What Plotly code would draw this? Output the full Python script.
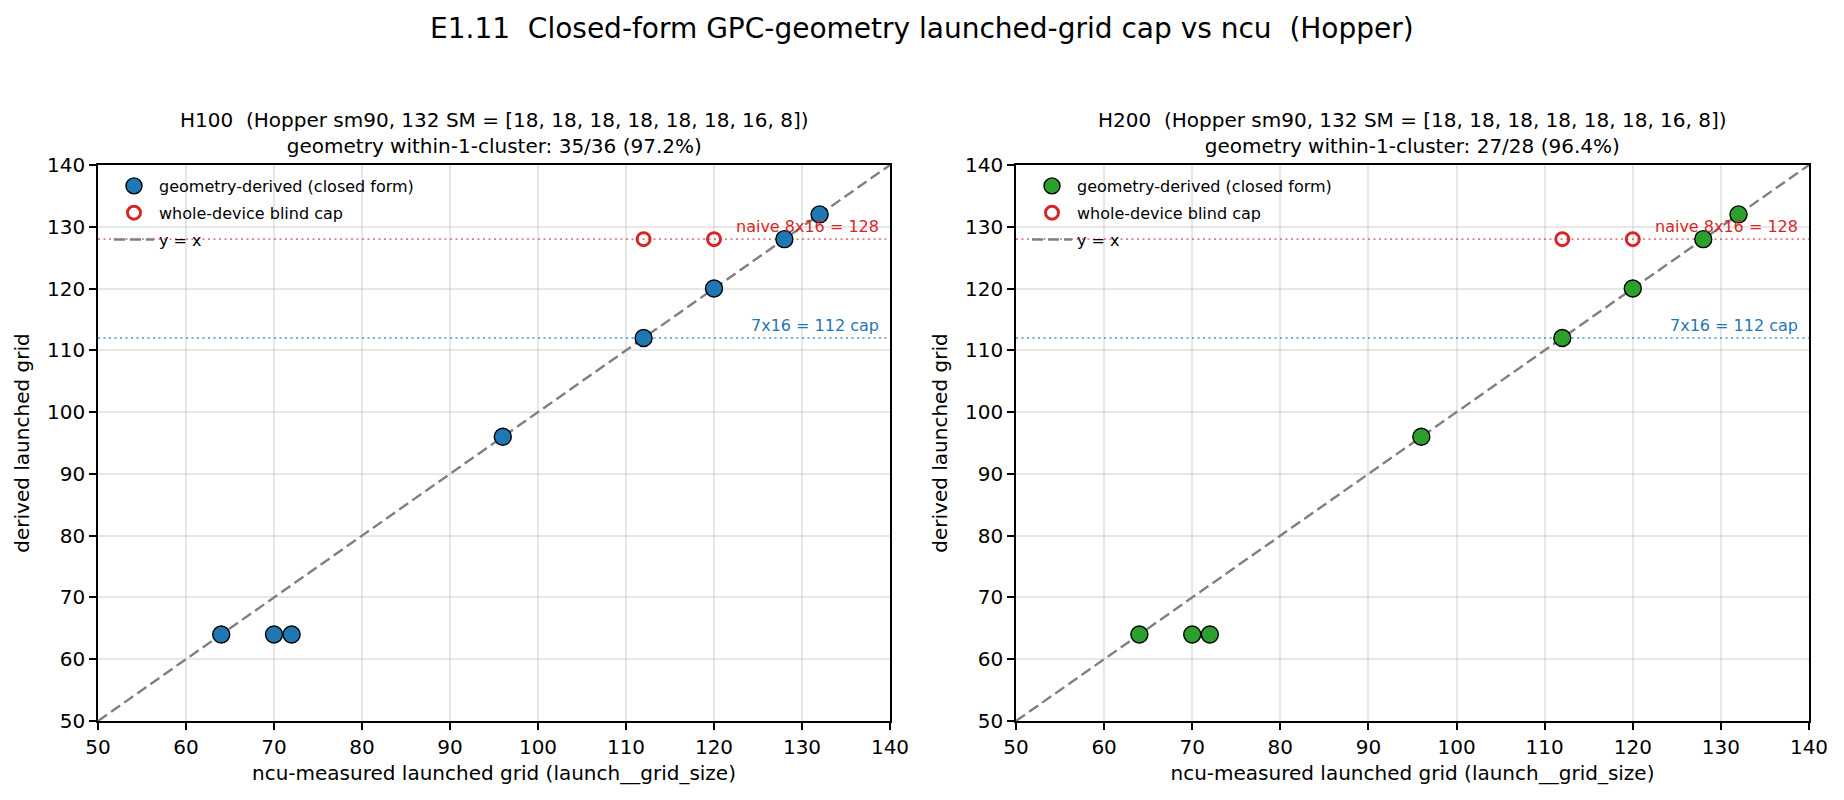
import plotly.graph_objects as go

# ---- data ----
ncu_measured = [64, 70, 72, 96, 112, 120, 128, 132]
derived_h100 = [64, 64, 64, 96, 112, 120, 128, 132]
derived_h200 = [64, 64, 64, 96, 112, 120, 128, 132]
blind_x = [112, 120]
blind_y = [128, 128]
naive_cap = 128
gpc_cap = 112
diag = [50, 140]
ticks = [50, 60, 70, 80, 90, 100, 110, 120, 130, 140]

panels = [
    dict(name="H100", derived=derived_h100, color="#1f77b4",
         title="H100  (Hopper sm90, 132 SM = [18, 18, 18, 18, 18, 18, 16, 8])<br>geometry within-1-cluster: 35/36 (97.2%)"),
    dict(name="H200", derived=derived_h200, color="#2ca02c",
         title="H200  (Hopper sm90, 132 SM = [18, 18, 18, 18, 18, 18, 16, 8])<br>geometry within-1-cluster: 27/28 (96.4%)"),
]

W, H = 1844, 800
FONT = "DejaVu Sans"
xdoms = [[98 / W, 890 / W], [1016 / W, 1809 / W]]
ydom = [1 - 721 / H, 1 - 165 / H]

fig = go.Figure()
annotations = []
layout = dict()

for i, p in enumerate(panels):
    sfx = "" if i == 0 else str(i + 1)
    xa, ya = "x" + sfx, "y" + sfx
    leg = "legend" if i == 0 else "legend2"
    # reference cap lines
    fig.add_trace(go.Scatter(x=diag, y=[naive_cap, naive_cap], mode="lines",
                             line=dict(color="rgba(214,39,40,0.6)", width=1.8, dash="2px,3.5px"),
                             showlegend=False, hoverinfo="skip", xaxis=xa, yaxis=ya))
    fig.add_trace(go.Scatter(x=diag, y=[gpc_cap, gpc_cap], mode="lines",
                             line=dict(color="rgba(31,119,180,0.6)", width=1.8, dash="2px,3.5px"),
                             showlegend=False, hoverinfo="skip", xaxis=xa, yaxis=ya))
    # y = x
    fig.add_trace(go.Scatter(x=diag, y=diag, mode="lines", name="y = x",
                             line=dict(color="#808080", width=2.4, dash="11px,5px"),
                             legend=leg, legendrank=3, legendgroup="g3" + sfx,
                             xaxis=xa, yaxis=ya))
    # blind cap
    fig.add_trace(go.Scatter(x=blind_x, y=blind_y, mode="markers", name="whole-device blind cap",
                             marker=dict(symbol="circle-open", size=13, color="#d62728",
                                         line=dict(width=3, color="#d62728")),
                             legend=leg, legendrank=2, legendgroup="g2" + sfx,
                             xaxis=xa, yaxis=ya))
    # geometry-derived
    fig.add_trace(go.Scatter(x=ncu_measured, y=p["derived"], mode="markers",
                             name="geometry-derived (closed form)",
                             marker=dict(symbol="circle", size=17, color=p["color"],
                                         line=dict(width=1.4, color="black")),
                             legend=leg, legendrank=1, legendgroup="g1" + sfx,
                             xaxis=xa, yaxis=ya))

    axis_common = dict(range=[50, 140], tickvals=ticks, showline=True, linecolor="black",
                       linewidth=1.6, mirror=True, ticks="outside", ticklen=7, tickwidth=1.6,
                       tickcolor="black", showgrid=True, gridcolor="rgba(176,176,176,0.3)",
                       gridwidth=1.5, zeroline=False, automargin=False,
                       tickfont=dict(family=FONT, size=20, color="black"))
    layout["xaxis" + sfx] = dict(axis_common, domain=xdoms[i], anchor=ya,
                                 title=dict(text="ncu-measured launched grid (launch__grid_size)",
                                            font=dict(family=FONT, size=20, color="black"), standoff=8))
    layout["yaxis" + sfx] = dict(axis_common, domain=ydom, anchor=xa,
                                 title=dict(text="derived launched grid",
                                            font=dict(family=FONT, size=20, color="black"), standoff=12))
    # legend
    layout[leg] = dict(x=xdoms[i][0] + 11 / W, y=ydom[1] - 4 / H, xanchor="left", yanchor="top",
                       bgcolor="rgba(0,0,0,0)", borderwidth=0,
                       font=dict(family=FONT, size=16, color="black"),
                       traceorder="grouped", tracegroupgap=3, itemwidth=40)
    # cap labels
    annotations.append(dict(x=139, y=naive_cap, xref=xa, yref=ya, text="naive 8x16 = 128",
                            showarrow=False, xanchor="right", yanchor="bottom", yshift=1,
                            font=dict(family=FONT, size=16, color="#d62728")))
    annotations.append(dict(x=139, y=gpc_cap, xref=xa, yref=ya, text="7x16 = 112 cap",
                            showarrow=False, xanchor="right", yanchor="bottom", yshift=1,
                            font=dict(family=FONT, size=16, color="#1f77b4")))
    # subplot title
    annotations.append(dict(x=sum(xdoms[i]) / 2, y=1 - 160 / H, xref="paper", yref="paper",
                            text=p["title"], showarrow=False, xanchor="center", yanchor="bottom",
                            font=dict(family=FONT, size=20, color="black")))

annotations.append(dict(x=0.5, y=1 - 28 / H, xref="paper", yref="paper",
                        text="E1.11  Closed-form GPC-geometry launched-grid cap vs ncu  (Hopper)",
                        showarrow=False, xanchor="center", yanchor="middle",
                        font=dict(family=FONT, size=28, color="black")))

fig.update_layout(width=W, height=H, margin=dict(l=0, r=0, t=0, b=0),
                  paper_bgcolor="white", plot_bgcolor="white",
                  annotations=annotations, **layout)

fig.write_html("out.html")
